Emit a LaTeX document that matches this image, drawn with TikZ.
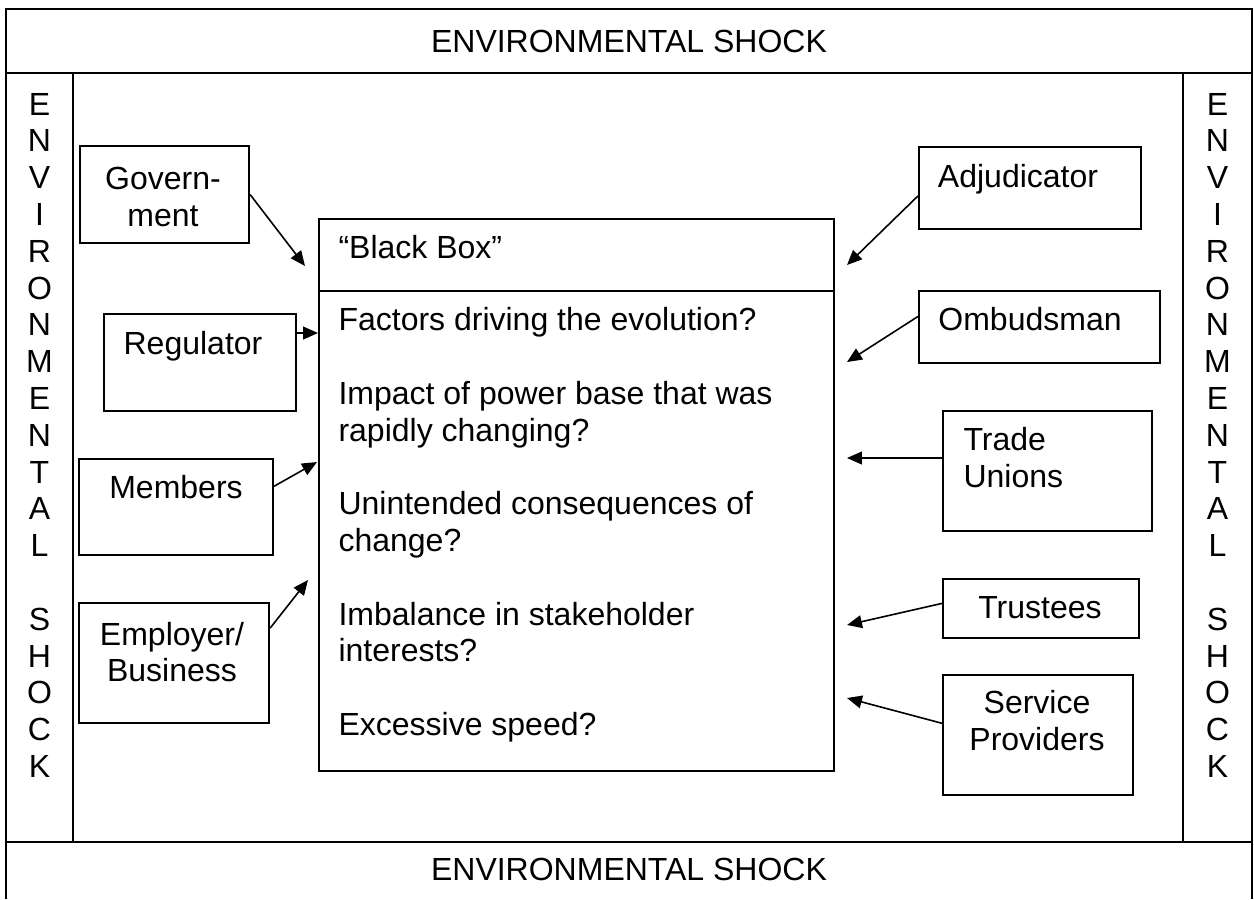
\documentclass[tikz,border=0pt]{standalone}
\usepackage{fontspec}
\setmainfont{Liberation Sans}
\usepackage{tikz}
\usetikzlibrary{arrows.meta, calc, positioning}
\def\pxunit{0.375pt}
\tikzset{
  box/.style={draw, line width=0.8pt, inner sep=0pt, anchor=north west},
  lbl/.style={inner sep=0pt, align=center},
  arr/.style={-{Triangle[length=5.6pt,width=4.8pt]}, line width=0.6pt}
}

\begin{document}
\begin{tikzpicture}[x=0.375pt, y=-0.375pt, font=\fontsize{12}{13.8}\selectfont]
		\useasboundingbox (0,0) rectangle (1254,899);
		\draw[line width=0.8pt] (6,899) -- (6,9) -- (1252,9) -- (1252,899);
		\draw[line width=0.8pt] (6,73) -- (1252,73) (6,842) -- (1252,842);
		\draw[line width=0.8pt] (73,73) -- (73,842) (1183,73) -- (1183,842);
		\node[lbl, anchor=base] (topshock) at (629,52) {ENVIRONMENTAL SHOCK};
		\node[lbl, anchor=base] (bottomshock) at (629,880) {ENVIRONMENTAL SHOCK};
		\node[lbl, anchor=base] (leftshock) at (39.5,777.5) {E\\N\\V\\I\\R\\O\\N\\M\\E\\N\\T\\A\\L\\[13.8pt]S\\H\\O\\C\\K};
		\node[lbl, anchor=base] (rightshock) at (1217.5,777.5) {E\\N\\V\\I\\R\\O\\N\\M\\E\\N\\T\\A\\L\\[13.8pt]S\\H\\O\\C\\K};
		
		\node[box, minimum width=515*\pxunit, minimum height=72*\pxunit] (bbhead) at (318,218) {};
		\node[box, minimum width=515*\pxunit, minimum height=480*\pxunit] (bbbody) at (318,290) {};
		\node[inner sep=0pt, anchor=base west] (bbtitle) at (338,258) {“Black Box”};
		\node[inner sep=0pt, anchor=base west, align=left] (questions) at (338,735.5) {Factors driving the evolution?\\[13.8pt]Impact of power base that was\\rapidly changing?\\[13.8pt]Unintended consequences of\\change?\\[13.8pt]Imbalance in stakeholder\\interests?\\[13.8pt]Excessive speed?};
		
		\node[box, minimum width=169*\pxunit, minimum height=97*\pxunit] (gov) at (79,145) {};
		\node[box, minimum width=192*\pxunit, minimum height=97*\pxunit] (reg) at (103,313) {};
		\node[box, minimum width=194*\pxunit, minimum height=96*\pxunit] (mem) at (78,458) {};
		\node[box, minimum width=190*\pxunit, minimum height=120*\pxunit] (emp) at (78,602) {};
		\node[box, minimum width=222*\pxunit, minimum height=82*\pxunit] (adj) at (918,146) {};
		\node[box, minimum width=241*\pxunit, minimum height=72*\pxunit] (omb) at (918,290) {};
		\node[box, minimum width=209*\pxunit, minimum height=120*\pxunit] (tu) at (942,410) {};
		\node[box, minimum width=196*\pxunit, minimum height=59*\pxunit] (trs) at (942,578) {};
		\node[box, minimum width=190*\pxunit, minimum height=120*\pxunit] (svc) at (942,674) {};
		
		\node[lbl] (govtxt) at (163,197) {Govern-\\ment};
		\node[lbl, anchor=base] (regtxt) at (193,354.5) {Regulator};
		\node[lbl, anchor=base] (memtxt) at (176,498.5) {Members};
		\node[lbl] (emptxt) at (172,652) {Employer/\\Business};
		\node[lbl, anchor=base] (adjtxt) at (1018,187.5) {Adjudicator};
		\node[lbl, anchor=base] (ombtxt) at (1030,330) {Ombudsman};
		\node[inner sep=0pt, align=left, anchor=base west] (tutxt) at (963,487) {Trade\\Unions};
		\node[lbl, anchor=base] (trstxt) at (1040,618) {Trustees};
		\node[lbl] (svctxt) at (1037,720.5) {Service\\Providers};
		
		\coordinate (govtip) at (305,266);
		\coordinate (regtip) at (318,333);
		\coordinate (memtip) at (317,462);
		\coordinate (emptip) at (308,580);
		\coordinate (adjtip) at (847,265);
		\coordinate (ombtip) at (847,362);
		\coordinate (tutip) at (847,458);
		\coordinate (trstip) at (847,625);
		\coordinate (svctip) at (847,698);
		
		\draw[arr] (gov.east) -- (govtip);
		\draw[arr] (reg.east |- regtip) -- (regtip);
		\draw[arr] (mem.12) -- (memtip);
		\draw[arr] (emp.20) -- (emptip);
		\draw[arr] (adj.184) -- (adjtip);
		\draw[arr] (omb.175) -- (ombtip);
		\draw[arr] (tu.west |- tutip) -- (tutip);
		\draw[arr] (trs.177) -- (trstip);
		\draw[arr] (svc.173) -- (svctip);
\end{tikzpicture}
\end{document}
